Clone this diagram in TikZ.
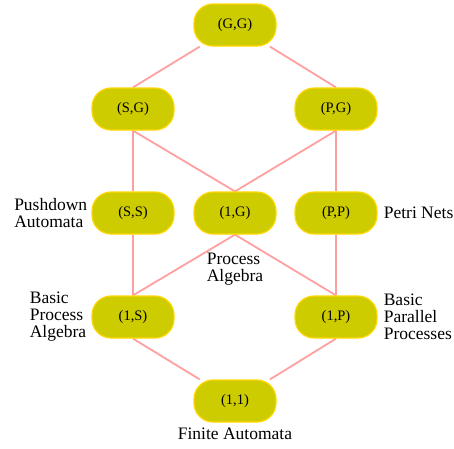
\documentclass[tikz,border=0pt]{standalone}
\usepackage{fontspec}
\setmainfont{Liberation Serif}
\usetikzlibrary{positioning,backgrounds}
\definecolor{boxfill}{RGB}{204,204,0}
\definecolor{boxline}{RGB}{255,215,0}
\definecolor{edgepink}{RGB}{255,160,160}
\begin{document}
\begin{tikzpicture}[x=1pt, y=-1pt,
	state/.style={rectangle, rounded corners=19pt, fill=boxfill, draw=boxline, line width=1.2pt,
	  minimum width=82pt, minimum height=42pt, inner sep=0pt, font=\fontsize{14.5}{17}\selectfont},
	lbl/.style={align=left, inner sep=0pt, font=\fontsize{17.5}{17}\selectfont},
	link/.style={draw=edgepink, line width=1.8pt}]
	\useasboundingbox (0,0) rectangle (454,448);
		% lattice
		\node[state] (GG) at (235,25) {(G,G)};
		\node[state] (SG) at (133,109) {(S,G)};
		\node[state] (PG) at (336,109) {(P,G)};
		\node[state] (SS) at (133,213) {(S,S)};
		\node[state] (1G) at (235,213) {(1,G)};
		\node[state] (PP) at (336,213) {(P,P)};
		\node[state] (1S) at (133,317) {(1,S)};
		\node[state] (1P) at (336,317) {(1,P)};
		\node[state] (11) at (235,401) {(1,1)};
		% names
		\node[lbl, left=4pt of SS] (pda) {Pushdown\\Automata};
		\node[lbl, right=6pt of PP] (pn) {Petri Nets};
		\node[lbl, below=18pt of 1G] (pa) {Process\\Algebra};
		\node[lbl, left=5pt of 1S] (bpa) {Basic\\Process\\Algebra};
		\node[lbl, right=6pt of 1P] (bpp) {Basic\\Parallel\\Processes};
		\node[lbl, below=5pt of 11] (fa) {Finite Automata};
		\begin{scope}[on background layer]
		  \draw[link] (GG) -- (SG.north);
		  \draw[link] (GG) -- (PG.north);
		  \draw[link] (SG.south) -- (SS.north);
		  \draw[link] (SG.south) -- (1G.north);
		  \draw[link] (PG.south) -- (1G.north);
		  \draw[link] (PG.south) -- (PP.north);
		  \draw[link] (SS.south) -- (1S.north);
		  \draw[link] (1G.south) -- (1S.north);
		  \draw[link] (1G.south) -- (1P.north);
		  \draw[link] (PP.south) -- (1P.north);
		  \draw[link] (1S.south) -- (11);
		  \draw[link] (1P.south) -- (11);
		\end{scope}
	\end{tikzpicture}
\end{document}
